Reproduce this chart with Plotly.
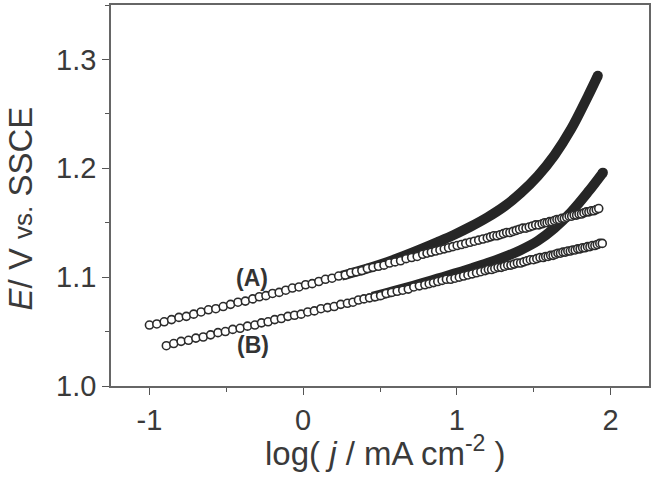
import plotly.graph_objects as go

# ---------------- data ----------------
# open circles, curve (A)
xa_open = [-1.000, -0.952, -0.904, -0.856, -0.808, -0.760, -0.712, -0.664, -0.616, -0.568,
           -0.520, -0.472, -0.424, -0.376, -0.328, -0.285, -0.242, -0.199, -0.156, -0.113,
           -0.070, -0.027, 0.016, 0.059, 0.102, 0.145, 0.188, 0.231, 0.274, 0.310,
           0.346, 0.382, 0.418, 0.454, 0.490, 0.526, 0.562, 0.598, 0.634, 0.670,
           0.706, 0.742, 0.778, 0.806, 0.834, 0.862, 0.890, 0.918, 0.946, 0.974,
           1.002, 1.030, 1.058, 1.086, 1.114, 1.142, 1.170, 1.198, 1.219, 1.240,
           1.261, 1.282, 1.303, 1.324, 1.345, 1.366, 1.387, 1.408, 1.429, 1.450,
           1.471, 1.492, 1.513, 1.534, 1.555, 1.571, 1.587, 1.603, 1.619, 1.635,
           1.651, 1.667, 1.683, 1.699, 1.715, 1.731, 1.747, 1.763, 1.779, 1.795,
           1.811, 1.827, 1.843, 1.859, 1.875, 1.891, 1.907, 1.923]
ya_open = [1.056, 1.057, 1.059, 1.061, 1.063, 1.064, 1.066, 1.068, 1.070, 1.071,
           1.073, 1.075, 1.077, 1.078, 1.080, 1.082, 1.083, 1.085, 1.086, 1.088,
           1.090, 1.091, 1.093, 1.094, 1.096, 1.098, 1.099, 1.101, 1.102, 1.104,
           1.105, 1.106, 1.108, 1.109, 1.110, 1.111, 1.113, 1.114, 1.115, 1.117,
           1.118, 1.119, 1.121, 1.122, 1.123, 1.124, 1.125, 1.126, 1.127, 1.128,
           1.129, 1.130, 1.131, 1.132, 1.133, 1.134, 1.135, 1.136, 1.137, 1.138,
           1.138, 1.139, 1.140, 1.141, 1.141, 1.142, 1.143, 1.144, 1.145, 1.145,
           1.146, 1.147, 1.148, 1.148, 1.149, 1.150, 1.150, 1.151, 1.151, 1.152,
           1.153, 1.153, 1.154, 1.154, 1.155, 1.156, 1.156, 1.157, 1.157, 1.158,
           1.158, 1.159, 1.160, 1.160, 1.161, 1.161, 1.162, 1.163]

# open circles, curve (B)
xb_open = [-0.890, -0.842, -0.794, -0.746, -0.698, -0.650, -0.602, -0.554, -0.506, -0.458,
           -0.410, -0.362, -0.314, -0.271, -0.228, -0.185, -0.142, -0.099, -0.056, -0.013,
           0.030, 0.073, 0.116, 0.159, 0.202, 0.245, 0.288, 0.324, 0.360, 0.396,
           0.432, 0.468, 0.504, 0.540, 0.576, 0.612, 0.648, 0.684, 0.720, 0.756,
           0.792, 0.820, 0.848, 0.876, 0.904, 0.932, 0.960, 0.988, 1.016, 1.044,
           1.072, 1.100, 1.128, 1.156, 1.184, 1.205, 1.226, 1.247, 1.268, 1.289,
           1.310, 1.331, 1.352, 1.373, 1.394, 1.415, 1.436, 1.457, 1.478, 1.499,
           1.520, 1.541, 1.562, 1.578, 1.594, 1.610, 1.626, 1.642, 1.658, 1.674,
           1.690, 1.706, 1.722, 1.738, 1.754, 1.770, 1.786, 1.802, 1.818, 1.834,
           1.850, 1.866, 1.882, 1.898, 1.914, 1.930, 1.946]
yb_open = [1.037, 1.039, 1.041, 1.042, 1.044, 1.045, 1.047, 1.049, 1.050, 1.052,
           1.053, 1.055, 1.056, 1.058, 1.059, 1.061, 1.062, 1.064, 1.065, 1.066,
           1.068, 1.069, 1.071, 1.072, 1.073, 1.075, 1.076, 1.077, 1.079, 1.080,
           1.081, 1.082, 1.083, 1.085, 1.086, 1.087, 1.088, 1.089, 1.091, 1.092,
           1.093, 1.094, 1.095, 1.096, 1.097, 1.098, 1.098, 1.099, 1.100, 1.101,
           1.102, 1.103, 1.104, 1.105, 1.106, 1.107, 1.107, 1.108, 1.109, 1.109,
           1.110, 1.111, 1.111, 1.112, 1.113, 1.113, 1.114, 1.115, 1.116, 1.116,
           1.117, 1.118, 1.118, 1.119, 1.119, 1.120, 1.120, 1.121, 1.122, 1.122,
           1.123, 1.123, 1.124, 1.124, 1.125, 1.125, 1.126, 1.126, 1.127, 1.127,
           1.128, 1.128, 1.129, 1.129, 1.130, 1.131, 1.131]

# filled curve (A)
xa_fill = [0.25, 0.35, 0.45, 0.55, 0.65, 0.765, 0.874, 0.983, 1.091,
           1.200, 1.309, 1.417, 1.526, 1.635, 1.743, 1.852, 1.917]
ya_fill = [1.1013, 1.1052, 1.1094, 1.1140, 1.1192, 1.1257, 1.1322, 1.1390, 1.1465,
           1.1550, 1.1650, 1.1775, 1.1928, 1.2120, 1.2360, 1.2660, 1.2850]

# filled curve (B)
xb_fill = [0.45, 0.55, 0.65, 0.765, 0.874, 0.983, 1.091, 1.200, 1.309,
           1.417, 1.526, 1.635, 1.743, 1.852, 1.950]
yb_fill = [1.0818, 1.0856, 1.0895, 1.0941, 1.0986, 1.1032, 1.1079, 1.1129, 1.1185,
           1.1250, 1.1333, 1.1450, 1.1598, 1.1780, 1.1960]

x_ticks = [-1, 0, 1, 2]
x_ticktext = ["-1", "0", "1", "2"]
y_ticks = [1.0, 1.1, 1.2, 1.3]
y_ticktext = ["1.0", "1.1", "1.2", "1.3"]

# ---------------- figure ----------------
DARK = "#262626"
TXT = "#3a3a3a"
FONT = "Liberation Sans, Arial, sans-serif"

fig = go.Figure()

for xs, ys in [(xb_fill, yb_fill), (xa_fill, ya_fill)]:
    fig.add_trace(go.Scatter(
        x=xs, y=ys, mode="lines",
        line=dict(color=DARK, width=10, shape="spline", smoothing=1.0),
        hoverinfo="skip", showlegend=False))
    # rounded end cap at the last reading
    fig.add_trace(go.Scatter(
        x=xs[-1:], y=ys[-1:], mode="markers",
        marker=dict(size=10, color=DARK, line=dict(width=0)),
        hoverinfo="skip", showlegend=False))

for xs, ys in [(xa_open, ya_open), (xb_open, yb_open)]:
    fig.add_trace(go.Scatter(
        x=xs, y=ys, mode="markers",
        marker=dict(symbol="circle", size=8, color="white",
                    line=dict(width=1.6, color="#2b2b2b")),
        hoverinfo="skip", showlegend=False))

axis_common = dict(
    showgrid=False, zeroline=False, showline=True, linecolor="#666666",
    linewidth=1.5, mirror=True, ticks="outside", ticklen=7, tickwidth=1.3,
    tickcolor="#555555",
    tickfont=dict(family=FONT, size=29, color=TXT),
)

fig.update_xaxes(range=[-1.25, 2.25], tickmode="array", tickvals=x_ticks,
                 ticktext=x_ticktext,
                 minor=dict(dtick=0.5, tick0=0, ticks="outside", ticklen=4,
                            tickwidth=1.1, tickcolor="#555555"),
                 **axis_common)
fig.update_yaxes(range=[1.0, 1.35], tickmode="array", tickvals=y_ticks,
                 ticktext=y_ticktext,
                 minor=dict(dtick=0.05, tick0=1.0, ticks="outside", ticklen=4,
                            tickwidth=1.1, tickcolor="#555555"),
                 **axis_common)

fig.add_annotation(x=-0.33, y=1.099, xref="x", yref="y", text="<b>(A)</b>",
                   showarrow=False, font=dict(family=FONT, size=23, color="#333333"))
fig.add_annotation(x=-0.325, y=1.038, xref="x", yref="y", text="<b>(B)</b>",
                   showarrow=False, font=dict(family=FONT, size=23, color="#333333"))

# axis titles
fig.add_annotation(x=0.51, y=-0.17, xref="paper", yref="paper",
                   text="log( <i>j</i> / mA cm<sup>-2</sup> )", showarrow=False,
                   xanchor="center", yanchor="middle",
                   font=dict(family=FONT, size=33, color=TXT))
fig.add_annotation(x=-0.168, y=0.465, xref="paper", yref="paper",
                   text="<i>E</i>/ V <span style='font-size:26px'>vs.</span> SSCE",
                   showarrow=False, textangle=-90, xanchor="center", yanchor="middle",
                   font=dict(family=FONT, size=33, color=TXT))

fig.update_layout(
    width=659, height=478,
    margin=dict(l=111, r=10, t=3, b=92),
    paper_bgcolor="white", plot_bgcolor="white",
    showlegend=False, hovermode=False,
)

fig.write_html("out.html")
